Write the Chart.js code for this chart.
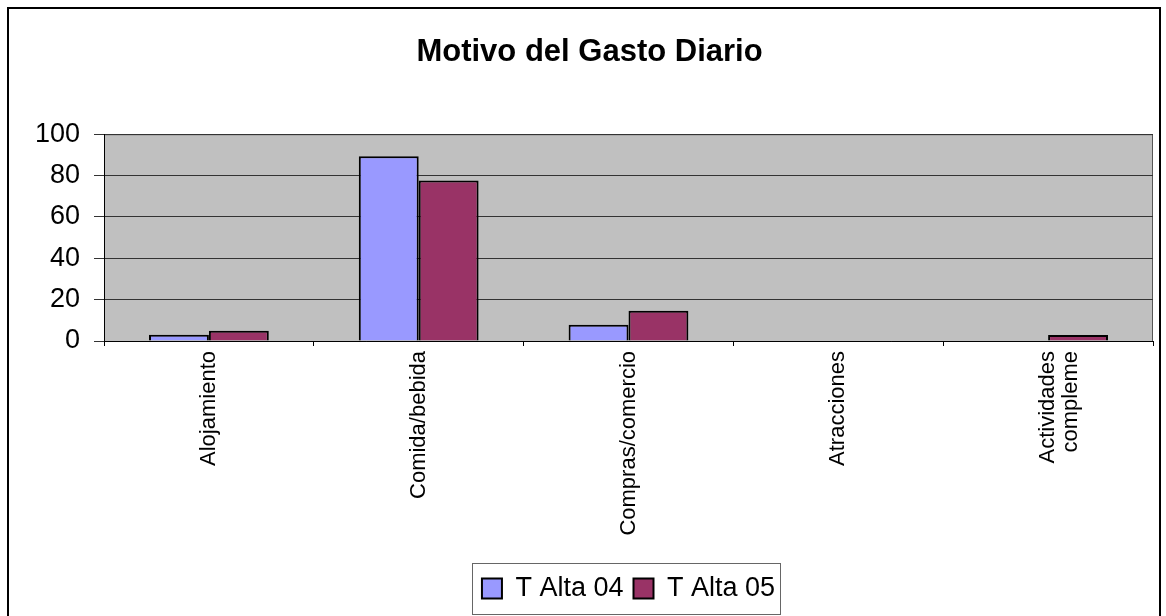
<!DOCTYPE html>
<html>
<head>
<meta charset="utf-8">
<title>Motivo del Gasto Diario</title>
<script src="https://cdn.jsdelivr.net/npm/chart.js@4/dist/chart.umd.min.js"></script>
<style>
  html, body { margin: 0; padding: 0; background: #fff; }
  canvas { display: block; }
</style>
</head>
<body>
<canvas id="gasto-chart" width="1166" height="616"></canvas>
<script>
// Categories and values for each season
const categories = ['Alojamiento', 'Comida/bebida', 'Compras/comercio', 'Atracciones', ['Actividades', 'compleme']];
const tAlta04 = [3, 89.3, 7.8, 0, 0];
const tAlta05 = [4.9, 77.6, 14.6, 0, 2.9];
const yTicks = { min: 0, max: 100, step: 20 };

const FONT = '"Liberation Sans", Arial, sans-serif';

// Paints the page frame, the grey plot area and the legend frame
const frame = {
  id: 'frame',
  beforeDraw(chart) {
    const { ctx, chartArea: a } = chart;
    ctx.save();
    ctx.fillStyle = '#fff';
    ctx.fillRect(0, 0, chart.width, chart.height);
    ctx.fillStyle = '#C0C0C0';
    ctx.fillRect(a.left, a.top, a.right - a.left, a.bottom - a.top);
    ctx.strokeStyle = '#555';
    ctx.lineWidth = 1;
    ctx.strokeRect(a.left + 0.5, a.top + 0.5, a.right - a.left - 1, a.bottom - a.top);
    ctx.strokeStyle = '#000';
    ctx.lineWidth = 2;
    ctx.strokeRect(8, 8, 1152, 700);
    ctx.restore();
  },
  afterDraw(chart) {
    const boxes = chart.legend && chart.legend.legendHitBoxes;
    if (!boxes || !boxes.length) return;
    const first = boxes[0];
    const last = boxes[boxes.length - 1];
    const cy = first.top + first.height / 2;
    const ctx = chart.ctx;
    ctx.save();
    ctx.strokeStyle = '#666';
    ctx.lineWidth = 1;
    ctx.strokeRect(Math.round(first.left - 10) + 0.5, Math.round(cy - 26) + 0.5,
      Math.round(last.left + last.width - first.left + 15), 51);
    ctx.restore();
  }
};

Chart.defaults.color = '#000';
Chart.defaults.font.family = FONT;

new Chart(document.getElementById('gasto-chart'), {
  type: 'bar',
  data: {
    labels: categories,
    datasets: [
      {
        label: 'T Alta 04',
        data: tAlta04,
        backgroundColor: '#9999FF',
        borderColor: '#000',
        borderWidth: 2
      },
      {
        label: 'T Alta 05',
        data: tAlta05,
        backgroundColor: '#993366',
        borderColor: '#000',
        borderWidth: 2
      }
    ]
  },
  options: {
    responsive: false,
    animation: false,
    devicePixelRatio: 1,
    layout: { padding: { left: 26, right: 13, top: 0, bottom: 4 } },
    datasets: {
      bar: { barPercentage: 1, categoryPercentage: 0.571 }
    },
    plugins: {
      title: {
        display: true,
        text: 'Motivo del Gasto Diario',
        font: { size: 31, weight: 'bold', family: FONT },
        padding: { top: 34, bottom: 63 },
        color: '#000'
      },
      legend: {
        position: 'bottom',
        fullSize: false,
        labels: {
          boxWidth: 20,
          boxHeight: 20,
          padding: 10,
          font: { size: 27, family: FONT },
          color: '#000'
        }
      },
      tooltip: { enabled: false }
    },
    scales: {
      x: {
        grid: {
          display: true,
          drawOnChartArea: false,
          tickLength: 5,
          color: '#000'
        },
        border: { color: '#000', width: 1 },
        ticks: {
          minRotation: 90,
          maxRotation: 90,
          autoSkip: false,
          padding: 5,
          font: { size: 22, family: FONT, lineHeight: 1.05 }
        },
        afterFit(scale) { scale.height = 224; }
      },
      y: {
        min: yTicks.min,
        max: yTicks.max,
        grid: { color: '#333', tickLength: 10 },
        border: { color: '#000', width: 1 },
        ticks: {
          stepSize: yTicks.step,
          padding: 14,
          font: { size: 27, family: FONT }
        },
        afterFit(scale) { scale.width = 78; }
      }
    }
  },
  plugins: [frame]
});
</script>
</body>
</html>
